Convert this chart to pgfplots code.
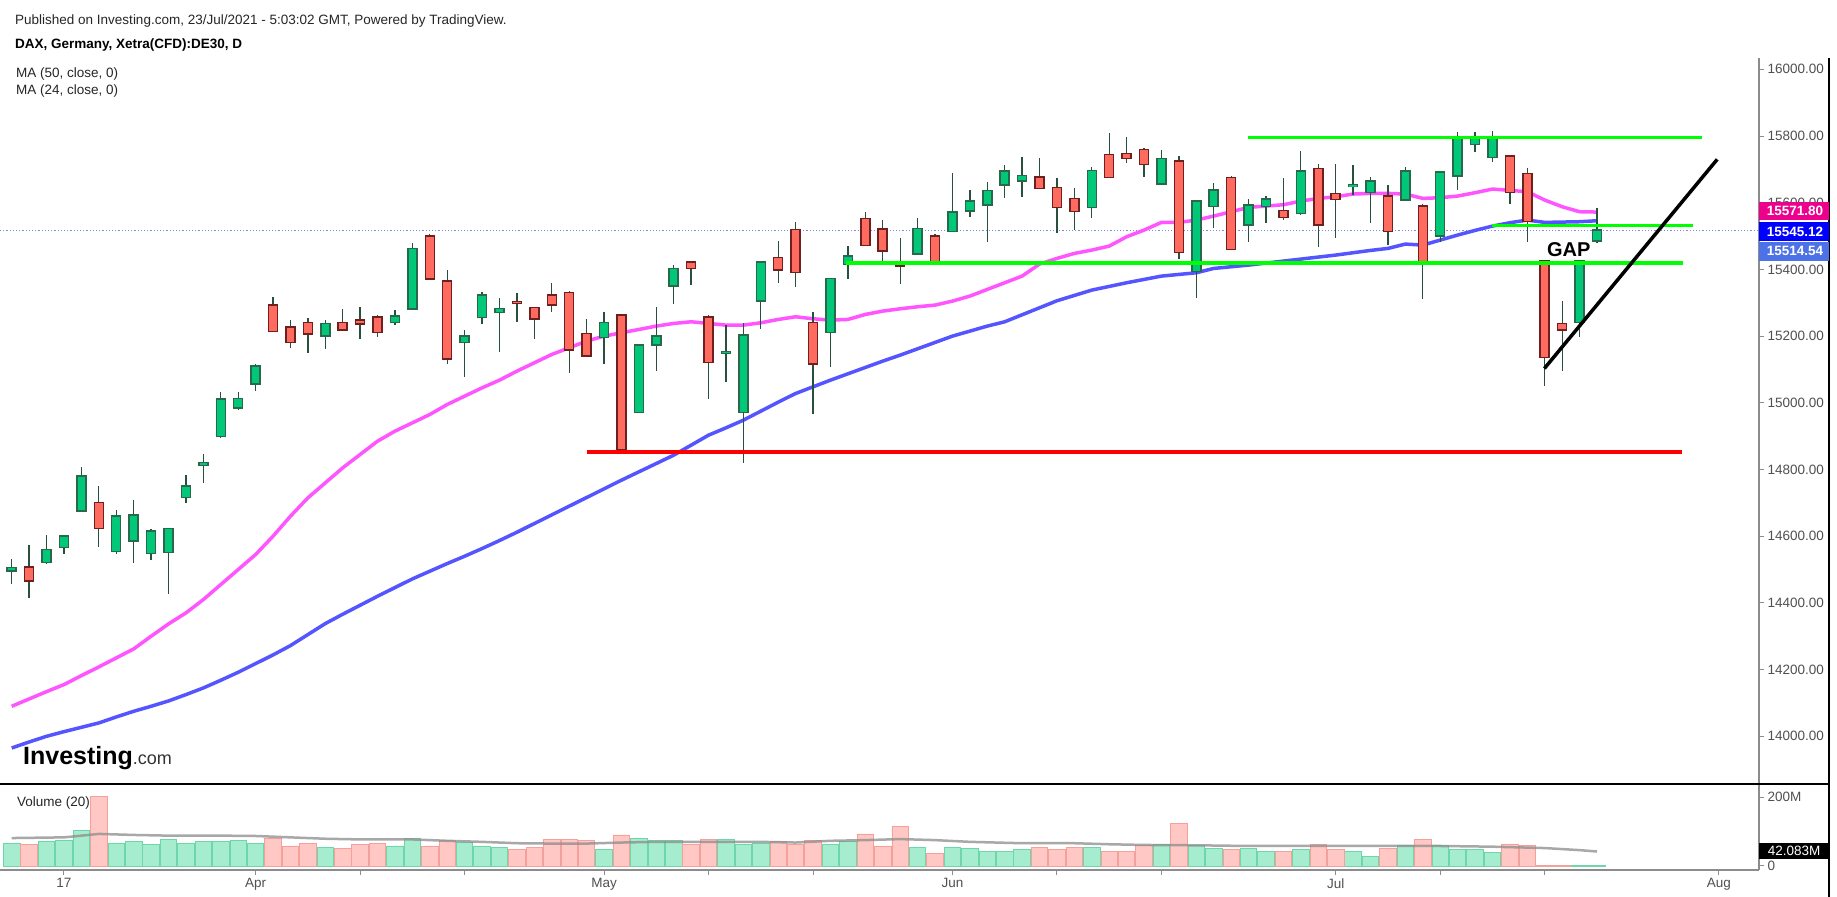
\documentclass[border=0pt]{standalone}
\usepackage{fontspec}
\setmainfont{Liberation Sans}
\usepackage{pgfplots}
\usepackage{pgfplotstable}
\pgfplotsset{compat=1.18}

\newcommand{\fs}[1]{\fontsize{#1}{#1}\selectfont}

\definecolor{upfill}{RGB}{0,200,120}
\definecolor{upedge}{RGB}{40,105,75}
\definecolor{dnfill}{RGB}{255,107,95}
\definecolor{dnedge}{RGB}{110,32,32}
\definecolor{wick}{RGB}{40,80,60}
\definecolor{maA}{RGB}{255,85,255}
\definecolor{maB}{RGB}{85,85,255}
\definecolor{volup}{RGB}{166,236,206}
\definecolor{volupb}{RGB}{110,215,170}
\definecolor{voldn}{RGB}{255,200,196}
\definecolor{voldnb}{RGB}{245,160,155}
\definecolor{glime}{RGB}{0,255,0}
\definecolor{tickgray}{RGB}{140,140,140}
\definecolor{labgray}{RGB}{80,80,80}
\definecolor{dotblue}{RGB}{120,140,230}
\definecolor{boxlb}{RGB}{77,113,230}
\definecolor{volma}{RGB}{140,140,140}

% up candles: index open high low close volume(M)
\pgfplotstableread{
i O H L C V
0 14496 14531 14456 14506 65
2 14521 14605 14516 14560 70
3 14566 14605 14546 14600 73
4 14675 14808 14674 14781 104
6 14555 14680 14547 14660 66
7 14585 14710 14520 14664 70
8 14548 14623 14528 14616 63
9 14551 14623 14426 14623 78
10 14716 14783 14701 14750 66
11 14814 14848 14761 14821 70
12 14899 15033 14896 15012 70
13 14985 15033 14978 15013 74
14 15057 15116 15036 15111 66
18 15200 15247 15161 15238 54
22 15241 15277 15232 15260 58
23 15282 15479 15280 15463 81
26 15181 15217 15078 15200 68
27 15256 15333 15236 15324 58
28 15271 15314 15153 15283 54
34 15196 15273 15116 15241 47
36 14971 15174 14971 15174 81
37 15174 15288 15097 15200 74
38 15350 15413 15296 15403 74
41 15148 15232 15063 15154 78
42 14971 15238 14820 15204 63
43 15305 15422 15221 15422 66
47 15211 15373 15108 15373 63
48 15415 15471 15371 15440 70
52 15447 15553 15442 15523 54
54 15514 15688 15514 15572 55
55 15575 15638 15558 15606 51
56 15593 15663 15483 15636 42
57 15653 15713 15615 15695 42
58 15665 15738 15618 15681 47
62 15586 15708 15555 15696 54
66 15657 15758 15657 15733 63
68 15394 15608 15315 15606 60
69 15589 15658 15525 15639 51
71 15534 15610 15483 15593 51
72 15589 15620 15540 15612 42
74 15567 15756 15562 15695 47
77 15650 15713 15623 15653 43
78 15631 15678 15540 15665 27
80 15609 15708 15609 15695 60
82 15500 15693 15483 15692 60
83 15680 15813 15637 15793 47
84 15774 15813 15753 15793 47
85 15736 15816 15723 15793 39
90 15241 15425 15198 15425 2
91 15485 15583 15478 15518 0.3
}\upC

% down candles
\pgfplotstableread{
i O H L C V
1 14507 14575 14416 14465 63
5 14701 14751 14568 14623 202
15 15294 15318 15214 15214 79
16 15227 15247 15165 15181 58
17 15241 15254 15150 15207 66
19 15241 15281 15216 15218 51
20 15249 15288 15191 15237 63
21 15257 15262 15198 15211 66
24 15500 15505 15372 15372 58
25 15366 15397 15116 15132 73
29 15302 15328 15243 15300 47
30 15286 15288 15191 15252 54
31 15324 15358 15273 15293 78
32 15331 15335 15090 15159 78
33 15208 15251 15140 15140 74
35 15264 15264 14851 14858 90
39 15422 15422 15352 15403 63
40 15257 15262 15011 15121 78
44 15436 15486 15360 15399 70
45 15520 15543 15348 15391 63
46 15241 15271 14967 15117 74
49 15552 15573 15471 15471 93
50 15522 15547 15413 15455 58
51 15421 15493 15356 15410 115
53 15501 15506 15423 15423 37
59 15677 15733 15642 15642 55
60 15646 15673 15510 15586 47
61 15613 15643 15518 15574 55
63 15745 15808 15676 15676 42
64 15748 15798 15720 15732 42
65 15760 15763 15678 15714 60
67 15725 15741 15431 15451 124
70 15676 15681 15459 15459 47
73 15576 15673 15548 15556 42
75 15703 15715 15468 15534 63
76 15627 15716 15495 15609 47
79 15620 15652 15472 15514 51
81 15590 15595 15311 15424 78
86 15740 15743 15595 15631 64
87 15688 15703 15483 15544 60
88 15425 15425 15051 15136 1.5
89 15238 15306 15096 15218 1.5
}\dnC

% moving averages: a = MA(24), b = MA(50)
\pgfplotstableread{
i a b
0 14090 13965
1 14112 13983
2 14134 14000
3 14155 14014
4 14182 14027
5 14208 14040
6 14235 14058
7 14262 14075
8 14300 14090
9 14337 14106
10 14370 14125
11 14410 14145
12 14455 14168
13 14500 14192
14 14545 14218
15 14600 14244
16 14660 14272
17 14715 14305
18 14760 14338
19 14805 14366
20 14845 14393
21 14885 14420
22 14915 14446
23 14940 14472
24 14965 14495
25 14995 14518
26 15020 14540
27 15045 14563
28 15068 14587
29 15095 14612
30 15120 14638
31 15145 14664
32 15165 14690
33 15185 14716
34 15200 14742
35 15210 14768
36 15220 14793
37 15230 14818
38 15238 14843
39 15243 14873
40 15238 14903
41 15233 14925
42 15233 14948
43 15240 14975
44 15250 15002
45 15258 15028
46 15252 15048
47 15248 15068
48 15250 15087
49 15265 15106
50 15275 15125
51 15282 15143
52 15288 15162
53 15293 15181
54 15305 15200
55 15320 15215
56 15340 15230
57 15360 15243
58 15380 15264
59 15416 15285
60 15433 15306
61 15448 15322
62 15458 15338
63 15470 15349
64 15498 15360
65 15518 15370
66 15541 15380
67 15541 15385
68 15548 15390
69 15560 15403
70 15573 15408
71 15586 15413
72 15590 15419
73 15594 15425
74 15605 15431
75 15613 15437
76 15618 15443
77 15626 15450
78 15628 15457
79 15628 15463
80 15626 15476
81 15613 15473
82 15615 15488
83 15620 15503
84 15630 15517
85 15641 15530
86 15637 15540
87 15633 15548
88 15608 15541
89 15588 15542
90 15573 15543
91 15572 15546
}\maT

% volume MA(20), in millions
\pgfplotstableread{
i v
0 81
3 83
5 93
7 90
9 88
12 88
14 87
16 83
18 79
20 77
23 77
25 73
27 70
29 66
31 65
33 65
35 68
37 70
40 70
43 70
45 68
47 73
49 75
51 78
53 75
55 70
58 66
61 66
63 63
65 61
68 60
71 58
75 58
78 58
82 58
85 56
88 52
90 46
91 42
}\vmaT

\begin{document}
\begin{tikzpicture}[x=1pt,y=1pt]
\fill[white] (0,0) rectangle (1837,897);

% ---------------- price pane ----------------
\begin{axis}[
  at={(0pt,113pt)}, anchor=south west, scale only axis,
  width=1759pt, height=726pt,
  xmin=-0.672, xmax=100.3, ymin=13857, ymax=16034,
  axis line style={draw=none},
  xtick=\empty,
  scaled y ticks=false,
  ytick pos=right, yticklabel pos=right,
  ytick={14000,14200,14400,14600,14800,15000,15200,15400,15600,15800,16000},
  yticklabels={14000.00,14200.00,14400.00,14600.00,14800.00,15000.00,15200.00,15400.00,15600.00,15800.00,16000.00},
  tick align=outside, major tick length=5pt,
  ytick style={draw=tickgray, line width=1pt},
  yticklabel style={font=\fs{13.5}, text=labgray},
]
% last-price dotted line
\addplot[dotblue, line width=1.2pt, dotted] coordinates {(-0.672,15516) (100.3,15516)};
% moving averages
\addplot[maA, line width=3.5pt] table[x=i,y=a] \maT;
\addplot[maB, line width=3.5pt] table[x=i,y=b] \maT;
% wicks
\addplot[draw=none, mark=none, error bars/.cd, y dir=both, y explicit, error mark=none,
  error bar style={draw=wick, line width=1.3pt}]
  table[x=i, y expr={(\thisrow{H}+\thisrow{L})/2}, y error expr={(\thisrow{H}-\thisrow{L})/2}] \upC;
\addplot[draw=none, mark=none, error bars/.cd, y dir=both, y explicit, error mark=none,
  error bar style={draw=wick, line width=1.3pt}]
  table[x=i, y expr={(\thisrow{H}+\thisrow{L})/2}, y error expr={(\thisrow{H}-\thisrow{L})/2}] \dnC;
% bodies: border then fill
\addplot[draw=none, mark=none, error bars/.cd, y dir=both, y explicit, error mark=none,
  error bar style={draw=upedge, line width=10.5pt}]
  table[x=i, y expr={(\thisrow{O}+\thisrow{C})/2}, y error expr={abs(\thisrow{C}-\thisrow{O})/2+2.25}] \upC;
\addplot[draw=none, mark=none, error bars/.cd, y dir=both, y explicit, error mark=none,
  error bar style={draw=upfill, line width=7.5pt}]
  table[x=i, y expr={(\thisrow{O}+\thisrow{C})/2}, y error expr={max(abs(\thisrow{C}-\thisrow{O})/2-2.25,0.4)}] \upC;
\addplot[draw=none, mark=none, error bars/.cd, y dir=both, y explicit, error mark=none,
  error bar style={draw=dnedge, line width=10.5pt}]
  table[x=i, y expr={(\thisrow{O}+\thisrow{C})/2}, y error expr={abs(\thisrow{C}-\thisrow{O})/2+2.25}] \dnC;
\addplot[draw=none, mark=none, error bars/.cd, y dir=both, y explicit, error mark=none,
  error bar style={draw=dnfill, line width=7.5pt}]
  table[x=i, y expr={(\thisrow{O}+\thisrow{C})/2}, y error expr={max(abs(\thisrow{C}-\thisrow{O})/2-2.25,0.4)}] \dnC;
% drawn levels
\addplot[red, line width=3.5pt] coordinates {(33.0,14853) (95.9,14853)};
\addplot[glime, line width=3.5pt] coordinates {(47.9,15419) (95.95,15419)};
\addplot[glime, line width=3.5pt] coordinates {(70.97,15795) (97.0,15795)};
\addplot[glime, line width=3.5pt] coordinates {(84.97,15532) (96.5,15532)};
\addplot[black, line width=3.5pt] coordinates {(87.98,15103) (97.9,15730)};
\node[font=\fs{20}\bfseries, inner sep=0pt] at (axis cs:89.38,15459) {GAP};
\end{axis}

% ---------------- volume pane ----------------
\begin{axis}[
  at={(0pt,27pt)}, anchor=south west, scale only axis,
  width=1759pt, height=86pt,
  xmin=-0.672, xmax=100.3, ymin=-11.6, ymax=237.7,
  axis line style={draw=none},
  scaled y ticks=false, scaled x ticks=false,
  xtick pos=left, ytick pos=right, yticklabel pos=right,
  xtick={3,14,20,26,34,40,46,54,60,66,76,82,88,98},
  xticklabels={17,Apr,,,May,,,Jun,,,Jul,,,Aug},
  ytick={0,200}, yticklabels={0,200M},
  tick align=outside, major tick length=5pt,
  tick style={draw=tickgray, line width=1pt},
  ticklabel style={font=\fs{13.5}, text=labgray},
]
\addplot[ybar, bar width=16.5pt, bar shift=0pt, fill=volup, draw=volupb, line width=0.8pt] table[x=i,y=V] \upC;
\addplot[ybar, bar width=16.5pt, bar shift=0pt, fill=voldn, draw=voldnb, line width=0.8pt] table[x=i,y=V] \dnC;
\addplot[volma, line width=2.5pt, opacity=0.75] table[x=i,y=v] \vmaT;
\end{axis}

% frame lines
\draw[tickgray, line width=1.3pt] (1759,839) -- (1759,27);
\draw[black, line width=1.5pt] (1829,839) -- (1829,0);
\draw[black, line width=2pt] (0,113) -- (1829,113);
\draw[tickgray, line width=2pt] (0,27) -- (1759,27);

% right-scale value boxes
\fill[magenta] (1759,677) rectangle (1829,695.3);
\node[text=white, font=\fs{13.5}\bfseries, anchor=center] at (1795,686.2) {15571.80};
\fill[blue] (1759,656) rectangle (1829,675.3);
\node[text=white, font=\fs{13.5}\bfseries, anchor=center] at (1795,665.6) {15545.12};
\fill[boxlb] (1759,636.3) rectangle (1829,655.3);
\node[text=white, font=\fs{13.5}\bfseries, anchor=center] at (1795,645.8) {15514.54};
\fill[black] (1759,37.7) rectangle (1829,54);
\node[text=white, font=\fs{13.5}, anchor=center] at (1794,45.8) {42.083M};

% header texts
\node[anchor=base west, inner sep=0pt, font=\fs{13.5}, text=black!85] at (15,872) {Published on Investing.com, 23/Jul/2021 - 5:03:02 GMT, Powered by TradingView.};
\node[anchor=base west, inner sep=0pt, font=\fs{13.5}\bfseries, text=black] at (15,848.5) {DAX, Germany, Xetra(CFD):DE30, D};
\node[anchor=base west, inner sep=0pt, font=\fs{13.5}, text=black!85] at (16,819.5) {MA (50, close, 0)};
\node[anchor=base west, inner sep=0pt, font=\fs{13.5}, text=black!85] at (16,802) {MA (24, close, 0)};
\node[anchor=west, inner sep=0pt, font=\fs{13.5}, text=black!85] at (17,94.2) {Volume (20)};
% logo
\node[anchor=base west, inner sep=0pt] at (23,132) {\fs{25}\bfseries Investing\fs{18}\mdseries\color{black!80}.com};

\pgfresetboundingbox
\useasboundingbox (0,0) rectangle (1837,897);
\end{tikzpicture}
\end{document}
